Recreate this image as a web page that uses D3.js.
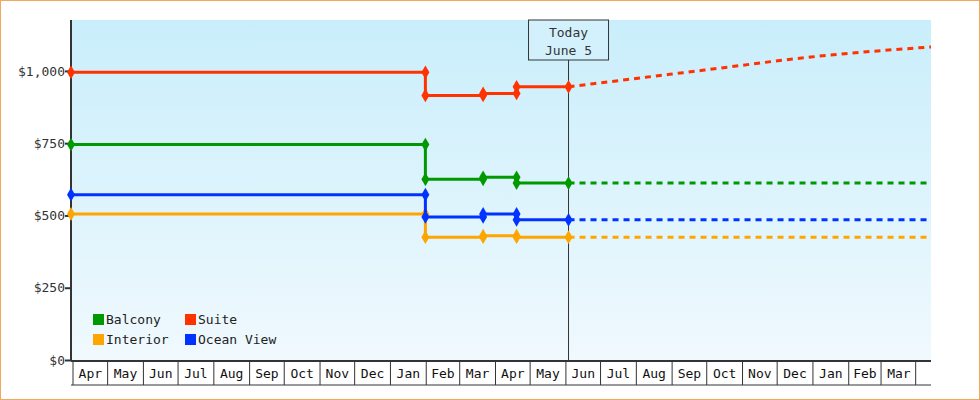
<!DOCTYPE html><html><head><script src="https://cdn.jsdelivr.net/npm/d3@7"></script>
<style>body{margin:0;background:#fff}svg{display:block;font-family:"DejaVu Sans Mono",monospace}</style></head><body><svg width="980" height="400"></svg>
<script>
const P=d3.timeParse("%Y-%m-%d");
const seriesNames=["Balcony","Suite","Interior","Ocean View"];
const colors=["#009900","#ff3300","#ffa500","#0033ff"];
const changeDates=["2023-04-01","2024-02-02","2024-02-02","2024-03-23","2024-03-23","2024-04-21","2024-04-21","2024-06-05"];
const balcony=[745,745,625,625,632,632,612,612];
const suite=[995,995,915,915,922,922,945,945];
const interior=[505,505,425,425,430,430,425,425];
const ocean=[572,572,495,495,505,505,485,485];
const projDates=["2024-06-05","2024-10-01","2025-01-01","2025-04-15"];
const suiteProj=[945,1003,1048,1083];
const today="2024-06-05";
const months=d3.timeMonths(P("2023-04-01"),P("2025-04-01"));
const yTicks=[0,250,500,750,1000];
const all=[balcony,suite,interior,ocean];

const svg=d3.select("svg");
svg.append("rect").attr("x",0.5).attr("y",0.5).attr("width",979).attr("height",399).attr("fill","#fff").attr("stroke","#f0a860");
const L=71,R=931,T=20,B=360;
const x=d3.scaleTime().domain([P("2023-04-01"),P("2025-04-15")]).range([L,R]);
const y=d3.scaleLinear().domain([0,1176]).range([B,T]);
const g=svg.append("defs").append("linearGradient").attr("id","bg").attr("x1",0).attr("x2",0).attr("y1",0).attr("y2",1);
g.append("stop").attr("offset",0).attr("stop-color","#c9eefb");
g.append("stop").attr("offset",1).attr("stop-color","#f0f9fe");
svg.append("rect").attr("x",L).attr("y",T).attr("width",R-L).attr("height",B-T).attr("fill","url(#bg)");
// y axis
const ya=svg.append("g").attr("transform",`translate(${L},0)`).call(d3.axisLeft(y).tickValues(yTicks).tickSize(6).tickFormat(d=>d3.format("$,")(d)));
ya.select(".domain").attr("stroke","#333").attr("stroke-width",2).attr("d",`M0,${T}V${B}`);
ya.selectAll(".tick line").attr("stroke","#333").attr("stroke-width",2);
ya.selectAll("text").attr("font-size",13).attr("font-family","DejaVu Sans Mono").attr("fill","#333").attr("x",-6);
// x month boxes
const xb=svg.append("g");
xb.append("line").attr("x1",L).attr("x2",R).attr("y1",B+1).attr("y2",B+1).attr("stroke","#333").attr("stroke-width",2);
xb.append("line").attr("x1",L).attr("x2",R).attr("y1",385).attr("y2",385).attr("stroke","#333");
months.forEach(m=>{
 const x0=x(m)+2, x1=x(d3.timeMonth.offset(m,1))+2;
 xb.append("line").attr("x1",x0).attr("x2",x0).attr("y1",B).attr("y2",385).attr("stroke","#333");
 xb.append("text").attr("x",(x0+x1)/2).attr("y",378).attr("text-anchor","middle").attr("font-size",13).attr("fill","#111").text(d3.timeFormat("%b")(m));
});
const lastX=x(months[months.length-1])+2+ (x(d3.timeMonth.offset(months[0],1))-x(months[0]));
xb.append("line").attr("x1",lastX).attr("x2",lastX).attr("y1",B).attr("y2",385).attr("stroke","#333");
// today line
const tx=x(P(today));
svg.append("line").attr("x1",tx).attr("x2",tx).attr("y1",60).attr("y2",B).attr("stroke","#333");
svg.append("rect").attr("x",tx-40).attr("y",T).attr("width",80).attr("height",40).attr("fill","#d3f1fc").attr("stroke","#333");
svg.append("text").attr("x",tx).attr("y",37).attr("text-anchor","middle").attr("font-size",13).attr("fill","#333").text("Today");
svg.append("text").attr("x",tx).attr("y",55).attr("text-anchor","middle").attr("font-size",13).attr("fill","#333").text("June 5");
const line=d3.line().x(d=>x(d[0])).y(d=>y(d[1]));
all.forEach((vals,i)=>{
 const pts=changeDates.map((d,j)=>[P(d),vals[j]]);
 let proj;
 if(i===1) proj=projDates.map((d,j)=>[P(d),suiteProj[j]]);
 else proj=[[P(today),vals[vals.length-1]],[x.domain()[1],vals[vals.length-1]]];
 svg.append("path").attr("d",d3.line().x(d=>x(d[0])).y(d=>y(d[1])).curve(d3.curveMonotoneX)(proj)).attr("fill","none").attr("stroke",colors[i]).attr("stroke-width",3).attr("stroke-dasharray","6,5");
 svg.append("path").attr("d",line(pts)).attr("fill","none").attr("stroke",colors[i]).attr("stroke-width",3);
 svg.selectAll(null).data(pts).enter().append("path").attr("transform",d=>`translate(${x(d[0])},${y(d[1])})`).attr("d",d3.symbol(d3.symbolDiamond,55)).attr("fill",colors[i]);
});
// legend
const leg=[[0,0],[1,0],[0,1],[1,1]];
seriesNames.forEach((n,i)=>{
 const lx=93+leg[i][0]*92, ly=314+leg[i][1]*20;
 svg.append("rect").attr("x",lx).attr("y",ly).attr("width",11).attr("height",11).attr("fill",colors[i]);
 svg.append("text").attr("x",lx+13).attr("y",ly+10).attr("font-size",13).attr("fill","#222").text(n);
});
</script></body></html>
